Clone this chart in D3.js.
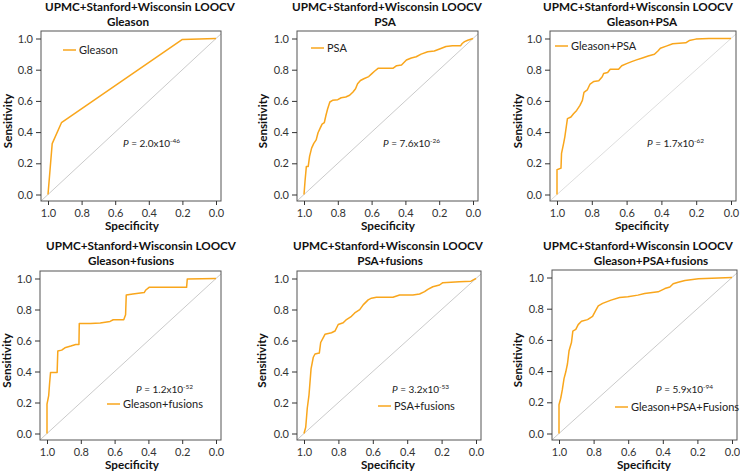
<!DOCTYPE html>
<html>
<head>
<meta charset="utf-8">
<script src="https://cdn.jsdelivr.net/npm/d3@7"></script>
<style>
  body { margin: 0; background: #fff; }
  svg { display: block; }
</style>
</head>
<body>
<div id="chart"></div>
<script>
// ROC curves (specificity, sensitivity)
const gleasonSpec = [1.0, 0.975, 0.92, 0.2, 0.0];
const gleasonSens = [0.0, 0.326, 0.46, 0.994, 1.0];

const psaSpec = [1.0, 0.994, 0.986, 0.975, 0.967, 0.955, 0.942, 0.928, 0.917, 0.905, 0.893, 0.88, 0.87, 0.86, 0.847, 0.831, 0.80, 0.78, 0.753, 0.73, 0.71, 0.695, 0.683, 0.666, 0.646, 0.617, 0.6, 0.583, 0.56, 0.52, 0.472, 0.452, 0.423, 0.394, 0.365, 0.336, 0.307, 0.268, 0.229, 0.19, 0.16, 0.122, 0.074, 0.064, 0.05, 0.031, 0.0];
const psaSens = [0.0, 0.085, 0.18, 0.18, 0.244, 0.297, 0.328, 0.35, 0.396, 0.424, 0.451, 0.46, 0.508, 0.55, 0.593, 0.604, 0.608, 0.62, 0.625, 0.636, 0.657, 0.678, 0.71, 0.731, 0.742, 0.756, 0.773, 0.79, 0.81, 0.81, 0.81, 0.826, 0.83, 0.862, 0.875, 0.883, 0.9, 0.915, 0.92, 0.936, 0.949, 0.953, 0.953, 0.968, 0.98, 0.989, 1.0];

const gpSpec = [1.0, 1.0, 0.977, 0.974, 0.962, 0.955, 0.94, 0.92, 0.905, 0.887, 0.868, 0.854, 0.845, 0.826, 0.81, 0.788, 0.76, 0.74, 0.732, 0.709, 0.694, 0.646, 0.628, 0.6, 0.571, 0.543, 0.505, 0.476, 0.44, 0.42, 0.406, 0.372, 0.335, 0.26, 0.24, 0.202, 0.127, 0.0];
const gpSens = [0.0, 0.159, 0.169, 0.264, 0.328, 0.37, 0.486, 0.497, 0.518, 0.539, 0.571, 0.603, 0.655, 0.67, 0.708, 0.725, 0.729, 0.755, 0.776, 0.782, 0.803, 0.803, 0.825, 0.839, 0.852, 0.863, 0.877, 0.888, 0.899, 0.92, 0.937, 0.951, 0.966, 0.972, 0.987, 0.996, 1.0, 1.0];

const gfSpec = [1.0, 1.0, 0.99, 0.985, 0.979, 0.94, 0.936, 0.913, 0.894, 0.859, 0.83, 0.811, 0.809, 0.743, 0.685, 0.627, 0.608, 0.546, 0.535, 0.531, 0.492, 0.425, 0.415, 0.396, 0.174, 0.17, 0.0];
const gfSens = [0.0, 0.19, 0.245, 0.319, 0.394, 0.394, 0.532, 0.538, 0.553, 0.564, 0.574, 0.574, 0.709, 0.709, 0.713, 0.723, 0.734, 0.734, 0.766, 0.894, 0.9, 0.909, 0.926, 0.943, 0.943, 0.996, 1.0];

const pfSpec = [1.0, 0.99, 0.981, 0.971, 0.959, 0.946, 0.936, 0.911, 0.903, 0.888, 0.878, 0.84, 0.82, 0.801, 0.772, 0.753, 0.724, 0.705, 0.676, 0.656, 0.627, 0.608, 0.579, 0.483, 0.444, 0.367, 0.328, 0.299, 0.28, 0.251, 0.212, 0.193, 0.097, 0.029, 0.01, 0.0];
const pfSens = [0.0, 0.04, 0.163, 0.248, 0.417, 0.492, 0.513, 0.519, 0.587, 0.619, 0.64, 0.65, 0.661, 0.703, 0.714, 0.735, 0.756, 0.778, 0.799, 0.83, 0.862, 0.873, 0.879, 0.879, 0.894, 0.894, 0.9, 0.915, 0.93, 0.947, 0.958, 0.973, 0.979, 0.983, 0.994, 1.0];

const gpfSpec = [1.0, 1.0, 0.99, 0.981, 0.971, 0.961, 0.951, 0.942, 0.928, 0.92, 0.903, 0.889, 0.87, 0.835, 0.806, 0.786, 0.773, 0.748, 0.699, 0.65, 0.602, 0.544, 0.505, 0.427, 0.388, 0.359, 0.34, 0.311, 0.272, 0.194, 0.078, 0.0];
const gpfSens = [0.0, 0.184, 0.226, 0.279, 0.352, 0.394, 0.447, 0.53, 0.583, 0.656, 0.667, 0.698, 0.719, 0.73, 0.751, 0.792, 0.818, 0.834, 0.855, 0.872, 0.876, 0.887, 0.897, 0.908, 0.929, 0.939, 0.96, 0.97, 0.981, 0.992, 0.996, 1.0];

const titleTop = "UPMC+Stanford+Wisconsin LOOCV";
const subtitles = ["Gleason", "PSA", "Gleason+PSA", "Gleason+fusions", "PSA+fusions", "Gleason+PSA+fusions"];
const legendLabels = ["Gleason", "PSA", "Gleason+PSA", "Gleason+fusions", "PSA+fusions", "Gleason+PSA+Fusions"];
const pMantissa = ["2.0", "7.6", "1.7", "1.2", "3.2", "5.9"];
const pExponent = ["-46", "-26", "-62", "-52", "-53", "-94"];
const tickValues = [0, 0.2, 0.4, 0.6, 0.8, 1.0];

const curves = [
  [gleasonSpec, gleasonSens],
  [psaSpec, psaSens],
  [gpSpec, gpSens],
  [gfSpec, gfSens],
  [pfSpec, pfSens],
  [gpfSpec, gpfSens]
];

const panels = [
  { bx: 41, by: 31, bw: 180, bh: 170, t1: 140, t2: 128, ty: 11, sx: 8, specX: 132, p: [123, 147], leg: [63, 50] },
  { bx: 297, by: 31, bw: 181, bh: 170, t1: 387, t2: 385, ty: 11, sx: 263, specX: 388, p: [383, 147], leg: [311, 48] },
  { bx: 550, by: 31, bw: 186, bh: 170, t1: 638, t2: 642, ty: 11, sx: 518, specX: 642, p: [647, 147], leg: [555, 46] },
  { bx: 40, by: 271, bw: 181, bh: 169, t1: 141, t2: 131, ty: 250, sx: 7, specX: 132, p: [136, 393], leg: [107, 404] },
  { bx: 297, by: 271, bw: 184, bh: 169, t1: 388, t2: 390, ty: 250, sx: 262, specX: 388, p: [392, 393], leg: [378, 406] },
  { bx: 552, by: 270, bw: 185, bh: 170, t1: 638, t2: 651, ty: 250, sx: 518, specX: 644, p: [656, 393], leg: [615, 407] }
];

const width = 740;
const height = 476;
const lineColor = "#f9a61c";
const font = "Lato, 'Open Sans', sans-serif";
const titleSize = "11.7px";

const svg = d3.select("#chart")
  .append("svg")
  .attr("width", width)
  .attr("height", height)
  .style("font-family", font);

panels.forEach((pn, i) => {
  const [spec, sens] = curves[i];
  const data = spec.map((s, k) => ({ spec: s, sens: sens[k] }));

  const x = d3.scaleLinear().domain([1, 0]).range([pn.bx + 7, pn.bx + pn.bw - 5]);
  const y = d3.scaleLinear().domain([0, 1]).range([pn.by + pn.bh - 6.5, pn.by + 7.5]);

  const g = svg.append("g");

  // clip so the diagonal stays in the box
  const clipId = "clip" + i;
  g.append("clipPath").attr("id", clipId)
    .append("rect")
    .attr("x", pn.bx).attr("y", pn.by)
    .attr("width", pn.bw).attr("height", pn.bh);

  // diagonal reference
  g.append("line")
    .attr("clip-path", `url(#${clipId})`)
    .attr("x1", x(1.2)).attr("y1", y(-0.2))
    .attr("x2", x(-0.2)).attr("y2", y(1.2))
    .attr("stroke", i === 2 ? "#d4d4d4" : "#bdbdbd")
    .attr("stroke-width", 0.8);

  // ROC curve
  const line = d3.line().x(d => x(d.spec)).y(d => y(d.sens));
  g.append("path")
    .datum(data)
    .attr("d", line)
    .attr("fill", "none")
    .attr("stroke", lineColor)
    .attr("stroke-width", 1.5)
    .attr("stroke-linejoin", "round");

  // box
  g.append("rect")
    .attr("x", pn.bx).attr("y", pn.by)
    .attr("width", pn.bw).attr("height", pn.bh)
    .attr("fill", "none")
    .attr("stroke", "#555")
    .attr("stroke-width", 1);

  // axes
  const yAxis = d3.axisLeft(y).tickValues(tickValues).tickFormat(d3.format(".1f")).tickSize(5).tickPadding(3);
  const xAxis = d3.axisBottom(x).tickValues(tickValues).tickFormat(d3.format(".1f")).tickSize(4).tickPadding(4);

  const ya = g.append("g").attr("transform", `translate(${pn.bx},0)`).call(yAxis);
  const xa = g.append("g").attr("transform", `translate(0,${pn.by + pn.bh})`).call(xAxis);
  [ya, xa].forEach(a => {
    a.select(".domain").remove();
    a.selectAll(".tick line").attr("stroke", "#333");
    a.selectAll(".tick text")
      .attr("fill", "#333")
      .style("font-family", font)
      .style("font-size", "11px");
  });

  // titles
  g.append("text")
    .attr("x", pn.t1).attr("y", pn.ty)
    .attr("text-anchor", "middle")
    .style("font-weight", "bold").style("font-size", titleSize)
    .attr("fill", "#111")
    .text(titleTop);
  g.append("text")
    .attr("x", pn.t2).attr("y", pn.ty + 15)
    .attr("text-anchor", "middle")
    .style("font-weight", "bold").style("font-size", titleSize)
    .attr("fill", "#111")
    .text(subtitles[i]);

  // axis titles
  g.append("text")
    .attr("transform", `translate(${pn.sx + 4},${pn.by + pn.bh / 2 + 5}) rotate(-90)`)
    .attr("text-anchor", "middle")
    .style("font-weight", "bold").style("font-size", titleSize)
    .attr("fill", "#111")
    .text("Sensitivity");
  g.append("text")
    .attr("x", pn.specX).attr("y", pn.by + pn.bh + 29)
    .attr("text-anchor", "middle")
    .style("font-weight", "bold").style("font-size", titleSize)
    .attr("fill", "#111")
    .text("Specificity");

  // P value
  const pt = g.append("text")
    .attr("x", pn.p[0]).attr("y", pn.p[1])
    .style("font-size", "10px")
    .attr("fill", "#222");
  pt.append("tspan").style("font-style", "italic").text("P");
  pt.append("tspan").text(" = " + pMantissa[i] + "x10");
  pt.append("tspan").attr("dy", -4).style("font-size", "6.5px").text(pExponent[i]);

  // legend
  g.append("line")
    .attr("x1", pn.leg[0]).attr("x2", pn.leg[0] + 13)
    .attr("y1", pn.leg[1]).attr("y2", pn.leg[1])
    .attr("stroke", lineColor).attr("stroke-width", 1.5);
  g.append("text")
    .attr("x", pn.leg[0] + 16).attr("y", pn.leg[1] + 3.5)
    .style("font-size", "11px")
    .attr("fill", "#222")
    .text(legendLabels[i]);
});
</script>
</body>
</html>
